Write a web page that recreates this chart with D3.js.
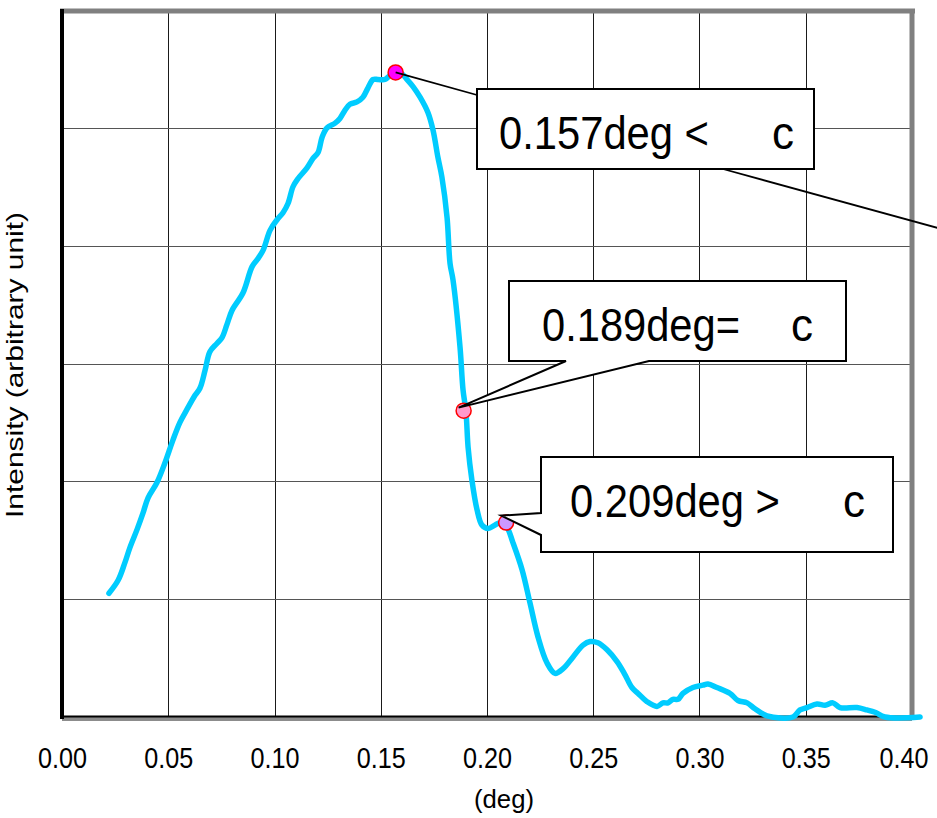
<!DOCTYPE html>
<html>
<head>
<meta charset="utf-8">
<script src="https://cdn.jsdelivr.net/npm/d3@7"></script>
<style>
  html, body { margin: 0; padding: 0; background: #fff; }
  svg { display: block; }
  text { font-family: "Liberation Sans", Arial, sans-serif; fill: #000; }
</style>
</head>
<body>
<svg id="chart" width="937" height="818"></svg>
<script>
// Diffraction angle (deg) and measured intensity (arbitrary unit)
const angleDeg = [
  0.0221, 0.0264, 0.0296, 0.0320, 0.0353, 0.0381, 0.0405, 0.0447, 0.0485, 0.0522,
  0.0555, 0.0588, 0.0626, 0.0649, 0.0673, 0.0696, 0.0729, 0.0753, 0.0776, 0.0800,
  0.0852, 0.0894, 0.0918, 0.0946, 0.0979, 0.1012, 0.1040, 0.1064, 0.1087, 0.1111,
  0.1153, 0.1181, 0.1205, 0.1224, 0.1247, 0.1285, 0.1308, 0.1332, 0.1355, 0.1388,
  0.1416, 0.1440, 0.1464, 0.1487, 0.1520, 0.1534, 0.1558, 0.1591, 0.1624, 0.1652,
  0.1685, 0.1722, 0.1746, 0.1769, 0.1788, 0.1812, 0.1826, 0.1840, 0.1873, 0.1887,
  0.1901, 0.1911, 0.1929, 0.1953, 0.1976, 0.2005, 0.2038, 0.2066, 0.2094, 0.2122,
  0.2165, 0.2202, 0.2240, 0.2282, 0.2320, 0.2358, 0.2405, 0.2452, 0.2485, 0.2522,
  0.2565, 0.2612, 0.2649, 0.2682, 0.2711, 0.2753, 0.2800, 0.2828, 0.2852, 0.2875,
  0.2899, 0.2922, 0.2969, 0.3016, 0.3040, 0.3082, 0.3144, 0.3181, 0.3224, 0.3261,
  0.3318, 0.3440, 0.3473, 0.3506, 0.3553, 0.3591, 0.3628, 0.3661, 0.3741, 0.3788,
  0.3826, 0.3873, 0.4038
];
const intensity = [
  1.05, 1.16, 1.31, 1.44, 1.59, 1.73, 1.86, 1.99, 2.16, 2.35,
  2.50, 2.61, 2.73, 2.79, 2.94, 3.10, 3.17, 3.22, 3.33, 3.45,
  3.60, 3.82, 3.88, 3.96, 4.13, 4.22, 4.28, 4.36, 4.50, 4.57,
  4.66, 4.74, 4.79, 4.92, 5.00, 5.04, 5.08, 5.15, 5.20, 5.22,
  5.26, 5.34, 5.41, 5.41, 5.41, 5.43, 5.47, 5.47, 5.41, 5.35,
  5.26, 5.13, 4.98, 4.75, 4.58, 4.24, 3.85, 3.71, 3.14, 2.78,
  2.59, 2.29, 2.01, 1.76, 1.63, 1.60, 1.63, 1.65, 1.61, 1.48,
  1.25, 0.97, 0.68, 0.46, 0.37, 0.41, 0.51, 0.61, 0.64, 0.63,
  0.57, 0.47, 0.36, 0.25, 0.20, 0.13, 0.09, 0.12, 0.12, 0.15,
  0.15, 0.20, 0.25, 0.27, 0.28, 0.25, 0.20, 0.14, 0.12, 0.07,
  0.01, 0.00, 0.06, 0.08, 0.11, 0.10, 0.12, 0.08, 0.08, 0.06,
  0.04, 0.00, 0.00
];

// Marked angles and the intensity at each
const markerDeg = [0.157, 0.189, 0.209];
const markerInt = [5.47, 2.60, 1.65];
const calloutText = ["0.157deg <", "0.189deg=", "0.209deg >"];
const calloutSymbol = ["c", "c", "c"];

// Axis ticks
const xTickValues = [0, 0.05, 0.10, 0.15, 0.20, 0.25, 0.30, 0.35, 0.40];
const xTickLabels = ["0.00", "0.05", "0.10", "0.15", "0.20", "0.25", "0.30", "0.35", "0.40"];
const yGridValues = [1, 2, 3, 4, 5];

const xTitle = "(deg)";
const yTitle = "Intensity (arbitrary unit)";

// ---- layout ----
const plot = { left: 62, right: 912, top: 10, bottom: 717 };
const markerStyle = [
  { fill: "#ff00ff" },
  { fill: "#ff99cc" },
  { fill: "#cc99ff" }
];

const svg = d3.select("#chart");

const x = d3.scaleLinear().domain([0, 0.40]).range([plot.left, plot.right]);
const y = d3.scaleLinear().domain([0, 6]).range([plot.bottom, plot.top]);

// Gridlines
const grid = svg.append("g");
grid.selectAll("line.vg")
  .data(xTickValues.filter(v => v > 0 && v < 0.40))
  .join("line")
  .attr("x1", d => Math.round(x(d)) + 0.5).attr("x2", d => Math.round(x(d)) + 0.5)
  .attr("y1", plot.top).attr("y2", plot.bottom)
  .attr("stroke", "#1a1a1a").attr("stroke-width", 1);
grid.selectAll("line.hg")
  .data(yGridValues)
  .join("line")
  .attr("x1", plot.left).attr("x2", plot.right)
  .attr("y1", d => Math.round(y(d)) + 0.5).attr("y2", d => Math.round(y(d)) + 0.5)
  .attr("stroke", "#555").attr("stroke-width", 1);

// Frame: gray top/right, black left, black+gray bottom
svg.append("line").attr("x1", plot.left - 2).attr("x2", plot.right + 3)
  .attr("y1", plot.top + 1).attr("y2", plot.top + 1)
  .attr("stroke", "#808080").attr("stroke-width", 5);
svg.append("line").attr("x1", plot.right).attr("x2", plot.right)
  .attr("y1", plot.top - 1).attr("y2", plot.bottom + 3)
  .attr("stroke", "#808080").attr("stroke-width", 5);
svg.append("line").attr("x1", plot.left).attr("x2", plot.right)
  .attr("y1", plot.bottom + 2).attr("y2", plot.bottom + 2)
  .attr("stroke", "#8c8c8c").attr("stroke-width", 4);
svg.append("line").attr("x1", plot.left).attr("x2", plot.right)
  .attr("y1", plot.bottom - 0.5).attr("y2", plot.bottom - 0.5)
  .attr("stroke", "#000").attr("stroke-width", 2);
svg.append("line").attr("x1", plot.left).attr("x2", plot.left)
  .attr("y1", plot.top - 1).attr("y2", plot.bottom + 2)
  .attr("stroke", "#000").attr("stroke-width", 4);

// X axis labels (no tick marks, no domain line)
const xAxis = d3.axisBottom(x)
  .tickValues(xTickValues)
  .tickFormat((d, i) => xTickLabels[i])
  .tickSize(0)
  .tickPadding(0);
const xg = svg.append("g").attr("transform", `translate(0,${plot.bottom})`).call(xAxis);
xg.select(".domain").remove();
xg.selectAll("text")
  .attr("y", 51).attr("dy", null)
  .attr("font-family", "Liberation Sans, Arial, sans-serif")
  .attr("font-size", 29)
  .attr("textLength", 49)
  .attr("lengthAdjust", "spacingAndGlyphs")
  .attr("fill", "#000");
// last label is right-aligned so it stays inside the page edge
xg.selectAll("text").filter((d, i) => i === xTickValues.length - 1)
  .attr("text-anchor", "end").attr("x", 16);

svg.append("text")
  .attr("x", 504).attr("y", 808)
  .attr("text-anchor", "middle")
  .attr("font-size", 25)
  .attr("textLength", 60).attr("lengthAdjust", "spacingAndGlyphs")
  .text(xTitle);

svg.append("text")
  .attr("transform", "translate(23,365) rotate(-90)")
  .attr("text-anchor", "middle")
  .attr("font-size", 24)
  .attr("textLength", 306).attr("lengthAdjust", "spacingAndGlyphs")
  .text(yTitle);

// Intensity curve
const pts = angleDeg.map((d, i) => [d, intensity[i]]);
svg.append("path")
  .datum(pts)
  .attr("fill", "none")
  .attr("stroke", "#00ccff")
  .attr("stroke-width", 5.5)
  .attr("stroke-linejoin", "round")
  .attr("stroke-linecap", "round")
  .attr("d", d3.line().x(d => x(d[0])).y(d => y(d[1])).curve(d3.curveCatmullRom.alpha(0.5)));

// Markers
svg.selectAll("circle.mk")
  .data(markerDeg)
  .join("circle")
  .attr("cx", d => x(d))
  .attr("cy", (d, i) => y(markerInt[i]))
  .attr("r", 7.5)
  .attr("fill", (d, i) => markerStyle[i].fill)
  .attr("stroke", "#ff0000")
  .attr("stroke-width", 1.5);

// Callouts
const cg = svg.append("g");
const mx = i => x(markerDeg[i]);
const my = i => y(markerInt[i]);

// 1: box with a leader from the peak marker, second leader running off to the right
cg.append("line")
  .attr("x1", mx(0)).attr("y1", my(0))
  .attr("x2", 477).attr("y2", 95)
  .attr("stroke", "#000").attr("stroke-width", 1.8);
cg.append("line")
  .attr("x1", 723).attr("y1", 169)
  .attr("x2", 960).attr("y2", 234)
  .attr("stroke", "#000").attr("stroke-width", 1.8);
cg.append("rect")
  .attr("x", 477).attr("y", 89).attr("width", 337).attr("height", 80)
  .attr("fill", "#fff").attr("stroke", "#000").attr("stroke-width", 2);

// 2: box with a wedge from its bottom edge
{
  const tx = mx(1) - 5, ty = my(1) - 3;
  cg.append("path")
    .attr("d", `M509,281 H846 V361 H649 L${tx},${ty} L566,361 H509 Z`)
    .attr("fill", "#fff").attr("stroke", "#000").attr("stroke-width", 2)
    .attr("stroke-linejoin", "miter");
}

// 3: box with a wedge from its left edge
{
  const tx = mx(2) - 5, ty = my(2) - 7;
  cg.append("path")
    .attr("d", `M541,457 H893 V552 H541 V535 L${tx},${ty} L541,513 Z`)
    .attr("fill", "#fff").attr("stroke", "#000").attr("stroke-width", 2)
    .attr("stroke-linejoin", "miter");
}

const labelPos = [
  { x: 499, y: 149, w: 210, cx: 772 },
  { x: 542, y: 341, w: 198, cx: 791 },
  { x: 570, y: 517, w: 210, cx: 843 }
];
labelPos.forEach((p, i) => {
  cg.append("text")
    .attr("x", p.x).attr("y", p.y)
    .attr("font-size", 46)
    .attr("textLength", p.w).attr("lengthAdjust", "spacingAndGlyphs")
    .text(calloutText[i]);
  cg.append("text")
    .attr("x", p.cx).attr("y", p.y)
    .attr("font-size", 46)
    .attr("textLength", 22).attr("lengthAdjust", "spacingAndGlyphs")
    .text(calloutSymbol[i]);
});
</script>
</body>
</html>
